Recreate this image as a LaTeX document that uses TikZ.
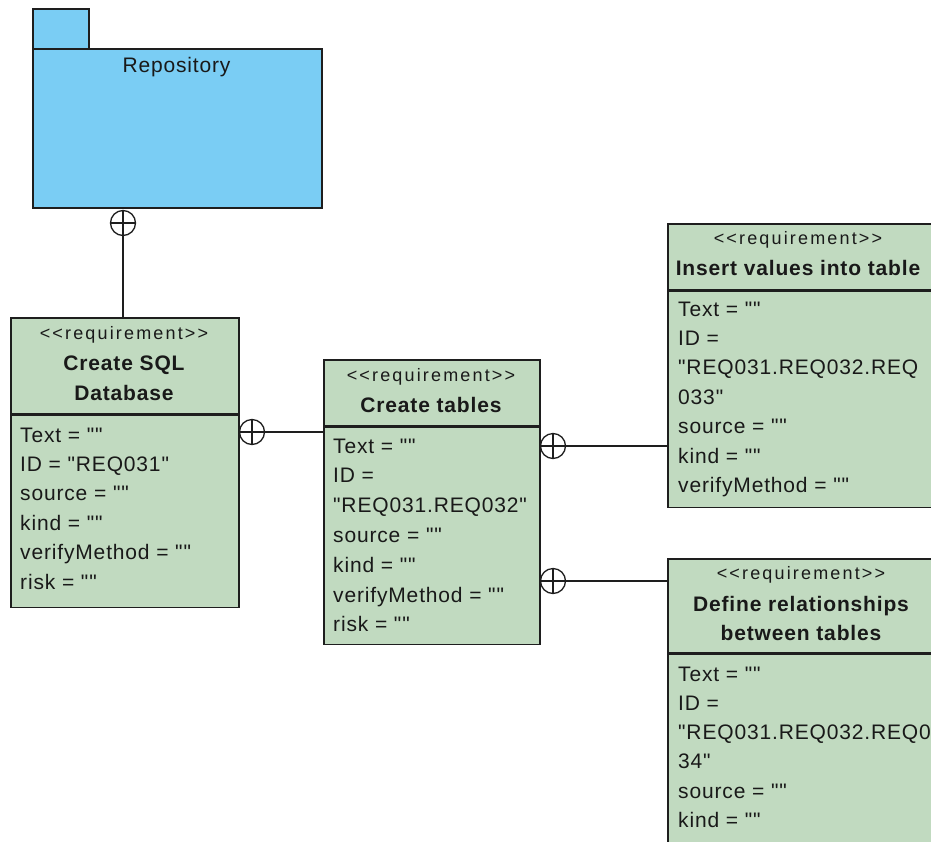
\documentclass[tikz,border=0pt]{standalone}
\usepackage{fontspec}
\newfontfamily\umlfont[LetterSpace=4]{Liberation Sans}
\newfontfamily\stereofont[LetterSpace=12]{Liberation Sans}
\definecolor{pkgblue}{RGB}{122,205,244}
\definecolor{reqgreen}{RGB}{193,218,192}
\definecolor{edgec}{RGB}{30,30,30}
\definecolor{ink}{RGB}{25,25,25}
\tikzset{
  pkg/.style={draw=edgec, fill=pkgblue, line width=1.5pt, anchor=north west, inner sep=0pt},
  reqbox/.style={draw=edgec, fill=reqgreen, line width=1.5pt, anchor=north west, inner sep=0pt},
  stereo/.style={font=\stereofont\fontsize{18}{20}\selectfont, text=ink, anchor=base, inner sep=0pt},
  reqtitle/.style={font=\umlfont\bfseries\fontsize{21}{25}\selectfont, text=ink, anchor=base, inner sep=0pt},
  attr/.style={font=\umlfont\fontsize{21}{25}\selectfont, text=ink, anchor=base west, inner sep=0pt},
  pkgname/.style={font=\umlfont\fontsize{21}{25}\selectfont, text=ink, anchor=base, inner sep=0pt},
  conn/.style={draw=edgec, line width=1.3pt},
  plusc/.style={circle, draw=edgec, fill=white, line width=1.3pt, minimum size=25pt, inner sep=0pt,
    path picture={\draw[edgec, line width=1.3pt]
      (path picture bounding box.north) -- (path picture bounding box.south)
      (path picture bounding box.west) -- (path picture bounding box.east);}}
}
\begin{document}
\begin{tikzpicture}[x=1pt,y=-1pt]
\useasboundingbox (0,0) rectangle (931,841);
\clip (0,0) rectangle (931,841);

% package
\node[pkg, minimum width=56pt, minimum height=40pt] (tab) at (32,8) {};
\node[pkg, minimum width=289pt, minimum height=159pt] (repo) at (32,48) {};
\node[pkgname] (repoName) at (176.5,72) {Repository};

% requirement: Create SQL Database
\node[reqbox, minimum width=228pt, minimum height=96pt] (b1h) at (10,317) {};
\node[reqbox, minimum width=228pt, minimum height=192pt] (b1b) at (b1h.south west) {};
\node[stereo] (b1s) at (124,339) {<<requirement>>};
\node[reqtitle] (b1t1) at (124,370) {Create SQL};
\node[reqtitle] (b1t2) at (124,400) {Database};
\foreach \t [count=\i from 0] in {Text = "",ID = "REQ031",source = "",kind = "",verifyMethod = "",risk = ""}
  \node[attr] (b1a\i) at (20,{442+29.4*\i}) {\t};

% requirement: Create tables
\node[reqbox, minimum width=216pt, minimum height=66pt] (b2h) at (323,359) {};
\node[reqbox, minimum width=216pt, minimum height=217pt] (b2b) at (b2h.south west) {};
\node[stereo] (b2s) at (431,381) {<<requirement>>};
\node[reqtitle] (b2t1) at (431,412) {Create tables};
\foreach \t [count=\i from 0] in {Text = "",ID =,"REQ031.REQ032",source = "",kind = "",verifyMethod = "",risk = ""}
  \node[attr] (b2a\i) at (333,{453+29.8*\i}) {\t};

% requirement: Insert values into table
\node[reqbox, minimum width=268pt, minimum height=66pt] (b3h) at (667,223) {};
\node[reqbox, minimum width=268pt, minimum height=216pt] (b3b) at (b3h.south west) {};
\node[stereo] (b3s) at (798,244) {<<requirement>>};
\node[reqtitle] (b3t1) at (798,275) {Insert values into table};
\foreach \t [count=\i from 0] in {Text = "",ID =,"REQ031.REQ032.REQ,033",source = "",kind = "",verifyMethod = ""}
  \node[attr] (b3a\i) at (678,{316+29.4*\i}) {\t};

% requirement: Define relationships between tables
\node[reqbox, minimum width=275pt, minimum height=94pt] (b4h) at (667,558) {};
\node[reqbox, minimum width=275pt, minimum height=220pt] (b4b) at (b4h.south west) {};
\node[stereo] (b4s) at (801,579) {<<requirement>>};
\node[reqtitle] (b4t1) at (801,611) {Define relationships};
\node[reqtitle] (b4t2) at (801,640) {between tables};
\foreach \t [count=\i from 0] in {Text = "",ID =,"REQ031.REQ032.REQ0,34",source = "",kind = ""}
  \node[attr] (b4a\i) at (678,{681+29.3*\i}) {\t};

% containment connectors
\node[plusc] (c1) at (123,223) {};
\node[plusc] (c2) at (252,432) {};
\node[plusc] (c3) at (553,446) {};
\node[plusc] (c4) at (553,581) {};
\draw[conn] (c1) -- (c1 |- b1h.north);
\draw[conn] (c2) -- (c2 -| b2b.west);
\draw[conn] (c3) -- (c3 -| b3b.west);
\draw[conn] (c4) -- (c4 -| b4h.west);
\end{tikzpicture}
\end{document}
